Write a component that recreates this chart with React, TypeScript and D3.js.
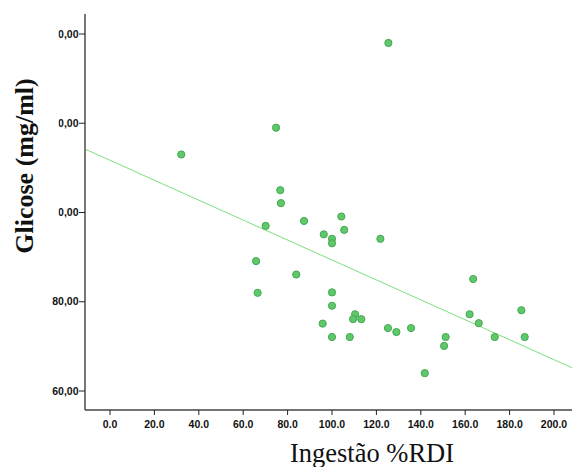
import React from "react";
import * as d3 from "d3";

const intakeRDI: number[] = [
  125.4, 74.8, 32.1, 76.7, 77.0, 70.1, 87.4, 104.2, 105.5, 96.3, 100.0, 100.0,
  121.8, 65.8, 83.9, 66.5, 100.0, 100.0, 110.4, 109.5, 113.2, 95.8, 125.2, 129.0,
  100.0, 108.0, 163.6, 162.0, 185.3, 166.1, 135.6, 151.2, 173.3, 186.8, 150.5, 141.8,
];
const glucose: number[] = [
  138.0, 119.0, 113.0, 105.0, 102.1, 97.0, 98.1, 99.1, 96.1, 95.1, 94.1, 93.1,
  94.1, 89.1, 86.1, 82.0, 82.1, 79.1, 77.2, 76.1, 76.1, 75.1, 74.1, 73.2,
  72.1, 72.1, 85.1, 77.2, 78.1, 75.2, 74.1, 72.1, 72.1, 72.1, 70.1, 64.0,
];
const xTicks: number[] = [0, 20, 40, 60, 80, 100, 120, 140, 160, 180, 200];
const yTicks: number[] = [60, 80, 100, 120, 140];
const fitIntercept = 111.7;
const fitSlope = -0.2234;
const xTitle = "Ingestão %RDI";
const yTitle = "Glicose (mg/ml)";

export default function App() {
  const W = 572, H = 467;
  const left = 85, right = 572, top = 14, bottom = 410;
  const x = d3.scaleLinear().domain([0, 200]).range([110, 554]);
  const y = d3.scaleLinear().domain([60, 140]).range([391, 34]);
  const x0 = x.invert(left), x1 = x.invert(right);
  const fit = d3.line<number>().x((d) => x(d)).y((d) => y(fitIntercept + fitSlope * d));
  const tickFont = "Liberation Sans, Arial, sans-serif";
  const serif = "Liberation Serif, Times New Roman, serif";
  const fmtY = (v: number) => v.toFixed(2).replace(".", ",");
  const fmtX = (v: number) => v.toFixed(1);
  return (
    <svg width={W} height={H} style={{ position: "fixed", left: 0, top: 0, background: "#fff" }}>
      <defs>
        <clipPath id="plot">
          <rect x={left} y={top} width={right - left} height={bottom - top} />
        </clipPath>
        <clipPath id="ylab">
          <rect x={58.6} y={0} width={40} height={H} />
        </clipPath>
      </defs>
      <path d={fit([x0, x1]) || ""} stroke="#7ddf7d" strokeWidth={1} fill="none" clipPath="url(#plot)" />
      {intakeRDI.map((v, i) => (
        <circle key={i} cx={x(v)} cy={y(glucose[i])} r={3.6} fill="#5ec86a" stroke="#46a852" strokeWidth={1} />
      ))}
      <line x1={left} x2={left} y1={top} y2={bottom} stroke="#777" strokeWidth={2} />
      <line x1={left} x2={right} y1={bottom} y2={bottom} stroke="#444" strokeWidth={1.5} />
      {yTicks.map((t) => (
        <g key={t}>
          <line x1={left - 6} x2={left} y1={y(t)} y2={y(t)} stroke="#222" strokeWidth={1} />
          <text x={78.5} y={y(t)} dy="0.35em" textAnchor="end" fontFamily={tickFont} fontWeight="bold" fontSize={10.5} fill="#111" clipPath={t >= 100 ? "url(#ylab)" : undefined}>
            {fmtY(t)}
          </text>
        </g>
      ))}
      {xTicks.map((t) => (
        <g key={t}>
          <line x1={x(t)} x2={x(t)} y1={bottom} y2={bottom + 5} stroke="#222" strokeWidth={1} />
          <text x={x(t)} y={428} textAnchor="middle" fontFamily={tickFont} fontWeight="bold" fontSize={10.5} fill="#111">
            {fmtX(t)}
          </text>
        </g>
      ))}
      <text x={372} y={462} textAnchor="middle" fontFamily={serif} fontSize={26.5} fill="#111">
        {xTitle}
      </text>
      <text transform={`translate(33,166) rotate(-90)`} textAnchor="middle" fontFamily={serif} fontWeight="bold" fontSize={26} fill="#111">
        {yTitle}
      </text>
    </svg>
  );
}
